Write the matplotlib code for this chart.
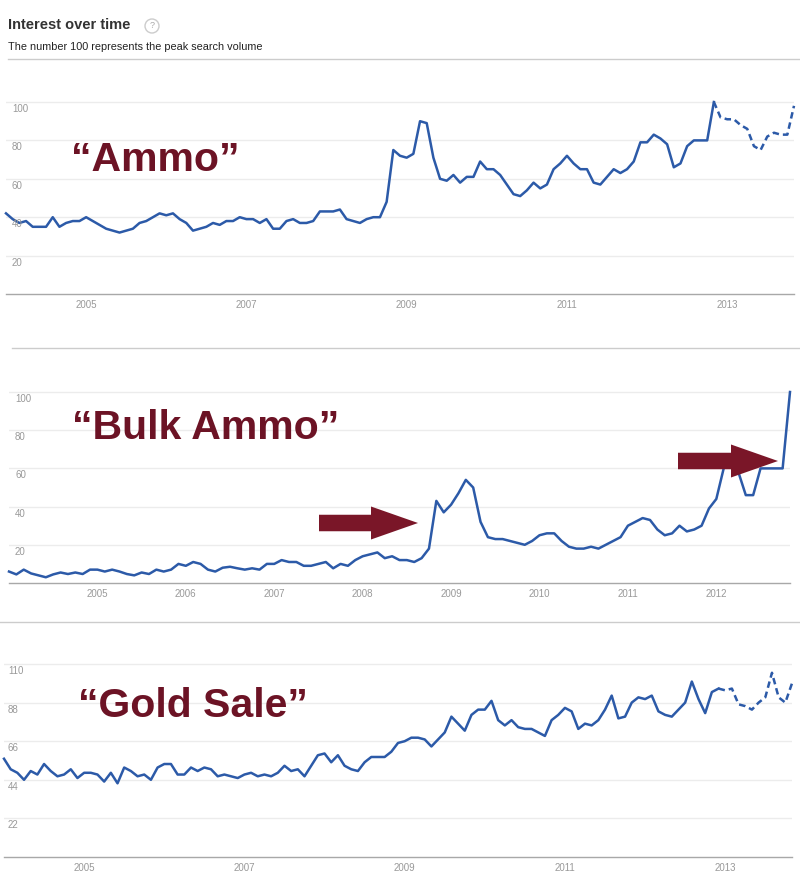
import numpy as np
import matplotlib
matplotlib.use("Agg")
import matplotlib.pyplot as plt
import matplotlib.patches as mpatches
from matplotlib.lines import Line2D

plt.rcParams['font.family'] = ['Liberation Sans', 'DejaVu Sans']

# --- data: monthly interest, index 0 = Jan 2004 ---
ammo = [42, 39, 37, 38, 35, 35, 35, 40, 35, 37,
        38, 38, 40, 38, 36, 34, 33, 32, 33, 34,
        37, 38, 40, 42, 41, 42, 39, 37, 33, 34,
        35, 37, 36, 38, 38, 40, 39, 39, 37, 39,
        34, 34, 38, 39, 37, 37, 38, 43, 43, 43,
        44, 39, 38, 37, 39, 40, 40, 48, 75, 72,
        71, 73, 90, 89, 71, 60, 59, 62, 58, 61,
        61, 69, 65, 65, 62, 57, 52, 51, 54, 58,
        55, 57, 65, 68, 72, 68, 65, 65, 58, 57,
        61, 65, 63, 65, 69, 79, 79, 83, 81, 78,
        66, 68, 77, 80, 80, 80, 100, 92, 91, 91,
        88, 86, 77, 75, 82, 84, 83, 83, 98]
ammo_forecast_from = 106

bulk_ammo = [6, 4.5, 7, 5, 4, 3, 4.5, 5.5, 4.7, 5.5,
             4.7, 7, 7, 6, 7, 6, 4.7, 4, 5.5, 4.7,
             7, 6, 7, 10, 9, 11, 10, 7, 6, 8,
             8.5, 7.7, 7, 7.7, 7, 10, 10, 12, 11, 11,
             9, 9, 10, 11, 7.7, 10, 9, 12, 14, 15,
             16, 13, 14, 12, 12, 11, 13, 18, 43, 37,
             41, 47, 54, 50, 32, 24, 23, 23, 22, 21,
             20, 22, 25, 26, 26, 22, 19, 18, 18, 19,
             18, 20, 22, 24, 30, 32, 34, 33, 28, 25,
             26, 30, 27, 28, 30, 39, 44, 60, 63, 58,
             46, 46, 60, 60, 60, 60, 100]

gold_sale = [56, 50, 48, 44, 49, 47, 53, 49, 46, 47,
             50, 45, 48, 48, 47, 43, 48, 42, 51, 49,
             46, 47, 44, 51, 53, 53, 47, 47, 51, 49,
             51, 50, 46, 47, 46, 45, 47, 48, 46, 47,
             46, 48, 52, 49, 50, 46, 52, 58, 59, 54,
             58, 52, 50, 49, 54, 57, 57, 57, 60, 65,
             66, 68, 68, 67, 63, 67, 71, 80, 76, 72,
             81, 84, 84, 89, 78, 75, 78, 74, 73, 73,
             71, 69, 78, 81, 85, 83, 73, 76, 75, 78,
             84, 92, 79, 80, 88, 91, 90, 92, 83, 81,
             80, 84, 88, 100, 90, 82, 94, 96, 95, 96,
             87, 86, 84, 88, 91, 105, 91, 88, 99]
gold_forecast_from = 107

ammo_grid = [20, 40, 60, 80, 100]
bulk_grid = [20, 40, 60, 80, 100]
gold_grid = [22, 44, 66, 88, 110]

ammo_years = [2005, 2007, 2009, 2011, 2013]
bulk_years = [2005, 2006, 2007, 2008, 2009, 2010, 2011, 2012]
gold_years = [2005, 2007, 2009, 2011, 2013]

BLUE = '#2c5aa8'
MAROON = '#6c1325'
ARROW = '#7a1628'
GRID = '#ececec'
AXIS = '#a8a8a8'
LABEL = '#999999'

W, H = 800, 888
fig = plt.figure(figsize=(W / 100, H / 100), dpi=100)


def px_axes(left, top, right, bottom):
    return fig.add_axes([left / W, 1 - bottom / H, (right - left) / W, (bottom - top) / H])


def fx(x):
    return x / W


def fy(y):
    return 1 - y / H


def trend_panel(ax, values, ymax, grid_vals, years, forecast_from=None, label_x=6):
    months = np.arange(len(values))
    vals = np.asarray(values, dtype=float)
    style = dict(color=BLUE, lw=1.8, solid_joinstyle='round', clip_on=False, zorder=3)
    if forecast_from is None:
        ax.plot(months, vals, **style)
    else:
        ax.plot(months[:forecast_from + 1], vals[:forecast_from + 1], **style)
        ax.plot(months[forecast_from:], vals[forecast_from:], ls=(0, (2.6, 1.6)),
                dash_joinstyle='round', **style)
    ax.set_xlim(0, len(values) - 1)
    ax.set_ylim(0, ymax)
    for g in grid_vals:
        ax.axhline(g, color=GRID, lw=1.0, zorder=0)
        ax.annotate(str(g), xy=(0, g), xycoords=('axes fraction', 'data'),
                    xytext=(label_x, -7), textcoords='offset pixels',
                    ha='left', va='center', fontsize=7, color=LABEL)
    ax.set_yticks([])
    ax.set_xticks([(y - 2004) * 12 for y in years])
    ax.set_xticklabels([str(y) for y in years])
    ax.tick_params(axis='x', length=0, pad=4.2, labelsize=7, labelcolor=LABEL)
    for side in ('top', 'left', 'right'):
        ax.spines[side].set_visible(False)
    ax.spines['bottom'].set_color(AXIS)
    ax.spines['bottom'].set_linewidth(1.0)
    ax.patch.set_alpha(0)


# --- header ---
fig.text(fx(8), fy(25), "Interest over time", fontsize=10.5, fontweight='bold',
         color='#333333', ha='left', va='center')
fig.patches.append(mpatches.Circle((1.52, (H - 26) / 100), 0.07, transform=fig.dpi_scale_trans,
                                   facecolor='white', edgecolor='#cccccc', lw=1.0))
fig.text(fx(152), fy(26), "?", fontsize=6.5, color='#aaaaaa', ha='center', va='center')
fig.text(fx(8), fy(47), "The number 100 represents the peak search volume",
         fontsize=7.8, color='#222222', ha='left', va='center')

for y, x0 in ((59, 8), (348, 12), (622, 0)):
    fig.add_artist(Line2D([fx(x0), fx(800)], [fy(y), fy(y)], color='#cccccc', lw=1.0))

# --- panels ---
ax1 = px_axes(6, 294 - 110 * 1.92, 794, 294)
trend_panel(ax1, ammo, 110, ammo_grid, ammo_years, ammo_forecast_from, label_x=6)

ax2 = px_axes(9, 583 - 110 * 1.91, 790, 583)
trend_panel(ax2, bulk_ammo, 110, bulk_grid, bulk_years, None, label_x=6)

ax3 = px_axes(4, 857 - 121 * 1.7545, 792, 857)
trend_panel(ax3, gold_sale, 121, gold_grid, gold_years, gold_forecast_from, label_x=4)

# --- big maroon captions ---
for text, x, y in (("\u201cAmmo\u201d", 71, 171),
                   ("\u201cBulk Ammo\u201d", 72, 439),
                   ("\u201cGold Sale\u201d", 78, 717)):
    fig.text(fx(x), fy(y), text, fontsize=29.5, fontweight='bold', color=MAROON,
             ha='left', va='baseline')

# --- arrows on the bulk ammo panel ---
for x0, yc, x1 in ((319, 523, 418), (678, 461, 778)):
    fig.patches.append(mpatches.FancyArrow(x0 / 100, (H - yc) / 100, (x1 - x0) / 100, 0,
                                           width=0.165, head_width=0.33, head_length=0.47,
                                           length_includes_head=True,
                                           transform=fig.dpi_scale_trans,
                                           facecolor=ARROW, edgecolor='none', zorder=5))

fig.savefig("out.png", dpi=100, facecolor='white')
